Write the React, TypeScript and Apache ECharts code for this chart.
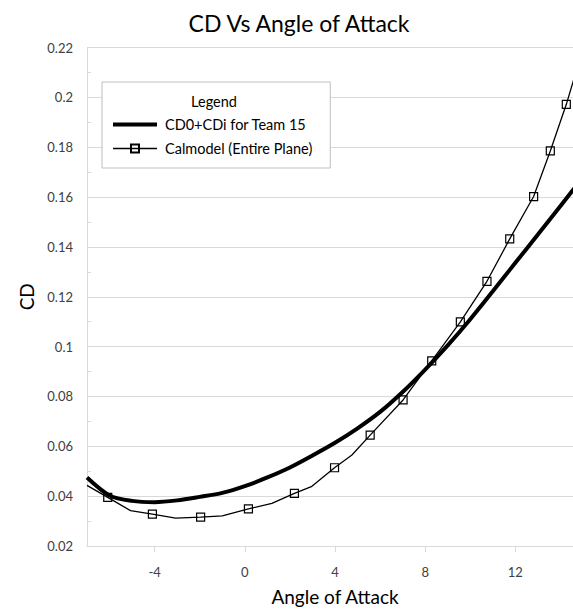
import React, { useEffect, useRef } from "react";
import * as echarts from "echarts";

// ---- data ----
const angleTeam = [-7, -6, -5, -4, -3, -2, -1, 0, 1, 2, 3, 4, 5, 6, 7, 8, 9, 10, 11, 12, 13, 14, 15];
const cdTeam = [
  0.0475, 0.0403, 0.0381, 0.0376, 0.0383, 0.0397, 0.0413, 0.044, 0.0475, 0.0515, 0.0563, 0.0614,
  0.0672, 0.0738, 0.0818, 0.0908, 0.1005, 0.111, 0.1222, 0.1336, 0.145, 0.1564, 0.168,
];

const angleCal = [
  -7.0, -6.08, -5.07, -4.1, -3.07, -1.96, -1.0, 0.16, 1.2, 2.2, 2.95, 3.98, 4.75, 5.56, 7.02, 8.29,
  9.56, 10.74, 11.75, 12.81, 13.55, 14.26, 14.75,
];
const cdCal = [
  0.0443, 0.0395, 0.0342, 0.0328, 0.0312, 0.0316, 0.0321, 0.0349, 0.0371, 0.0411, 0.0438, 0.0514,
  0.0565, 0.0645, 0.0786, 0.0943, 0.1099, 0.1262, 0.1432, 0.1602, 0.1785, 0.1972, 0.212,
];
const calMarked = [
  false, true, false, true, false, true, false, true, false, true, false, true, false, true, true, true,
  true, true, true, true, true, true, false,
];

const xTickValues = [-4, 0, 4, 8, 12];
const seriesNames = ["CD0+CDi for Team 15", "Calmodel (Entire Plane)"];
const titleText = "CD Vs Angle of Attack";
const xName = "Angle of Attack";
const yName = "CD";
const legendTitle = "Legend";

const FONT = "Lato, 'Open Sans', sans-serif";

export default function App() {
  const ref = useRef<HTMLDivElement>(null);

  useEffect(() => {
    if (!ref.current) return;
    const chart = echarts.init(ref.current, undefined, { renderer: "svg" });

    const teamData = angleTeam.map((a, i) => [a, cdTeam[i]]);
    const calData = angleCal.map((a, i) =>
      calMarked[i] ? { value: [a, cdCal[i]] } : { value: [a, cdCal[i]], symbol: "none" }
    );

    chart.setOption({
      animation: false,
      backgroundColor: "#ffffff",
      title: {
        text: titleText,
        left: "center",
        top: 11,
        padding: 0,
        textStyle: { fontFamily: FONT, fontSize: 23, fontWeight: "normal", color: "#000" },
      },
      grid: { left: 87, top: 47.5, width: 496, height: 499, containLabel: false },
      xAxis: {
        type: "value",
        min: -7,
        max: 15,
        name: xName,
        nameLocation: "middle",
        nameGap: 41,
        nameTextStyle: { fontFamily: FONT, fontSize: 19, color: "#000" },
        axisLine: { show: true, onZero: false, lineStyle: { color: "#d9d9d9", width: 1 } },
        axisTick: {
          show: true,
          inside: false,
          length: 6,
          customValues: xTickValues,
          lineStyle: { color: "#d9d9d9" },
        },
        axisLabel: {
          customValues: xTickValues,
          margin: 19,
          fontFamily: FONT,
          fontSize: 13,
          color: "#404040",
        },
        splitLine: { show: false },
      },
      yAxis: {
        type: "value",
        min: 0.02,
        max: 0.22,
        interval: 0.02,
        name: yName,
        nameLocation: "middle",
        nameGap: 41,
        nameTextStyle: { fontFamily: FONT, fontSize: 19, color: "#000" },
        axisLine: { show: true, onZero: false, lineStyle: { color: "#d9d9d9", width: 1 } },
        axisTick: { show: true, inside: true, length: 4, lineStyle: { color: "#d9d9d9" } },
        minorTick: { show: true, splitNumber: 2, length: 4, lineStyle: { color: "#d9d9d9" } },
        axisLabel: { margin: 14, fontFamily: FONT, fontSize: 13, color: "#404040" },
        splitLine: { show: true, lineStyle: { color: "#d9d9d9", width: 1 } },
      },
      legend: {
        orient: "vertical",
        left: 102,
        top: 82,
        padding: [35, 18, 12, 9],
        itemWidth: 44,
        itemHeight: 10,
        itemGap: 9,
        backgroundColor: "#ffffff",
        borderColor: "#bfbfbf",
        borderWidth: 1,
        borderRadius: 0,
        data: [
          { name: seriesNames[0], lineStyle: { width: 4, color: "#000" } },
          { name: seriesNames[1], lineStyle: { width: 1.3, color: "#000" } },
        ],
        textStyle: {
          fontFamily: FONT,
          fontSize: 14.5,
          lineHeight: 14,
          color: "#000",
          padding: [0, 0, 0, 3],
        },
      },
      graphic: [
        {
          type: "text",
          x: 214,
          y: 101,
          z: 100,
          style: {
            text: legendTitle,
            fontFamily: FONT,
            fontSize: 14.5,
            fill: "#000",
            textAlign: "center",
            textVerticalAlign: "middle",
          },
        },
      ],
      series: [
        {
          name: seriesNames[0],
          type: "line",
          data: teamData,
          smooth: 0.3,
          symbol: "none",
          showSymbol: false,
          color: "#000",
          lineStyle: { color: "#000", width: 4 },
          itemStyle: { color: "rgba(0,0,0,0)", borderWidth: 0 },
          z: 3,
        },
        {
          name: seriesNames[1],
          type: "line",
          data: calData,
          symbol: "rect",
          symbolSize: 8,
          showSymbol: true,
          showAllSymbol: true,
          color: "#000",
          lineStyle: { color: "#000", width: 1.3 },
          itemStyle: { color: "rgba(0,0,0,0)", borderColor: "#000", borderWidth: 1.2 },
          z: 4,
        },
      ],
    });

    return () => chart.dispose();
  }, []);

  return (
    <div
      style={{
        position: "fixed",
        left: 0,
        top: 0,
        width: 573,
        height: 611,
        overflow: "hidden",
        background: "#fff",
      }}
    >
      <div ref={ref} style={{ width: 598, height: 611 }} />
    </div>
  );
}
